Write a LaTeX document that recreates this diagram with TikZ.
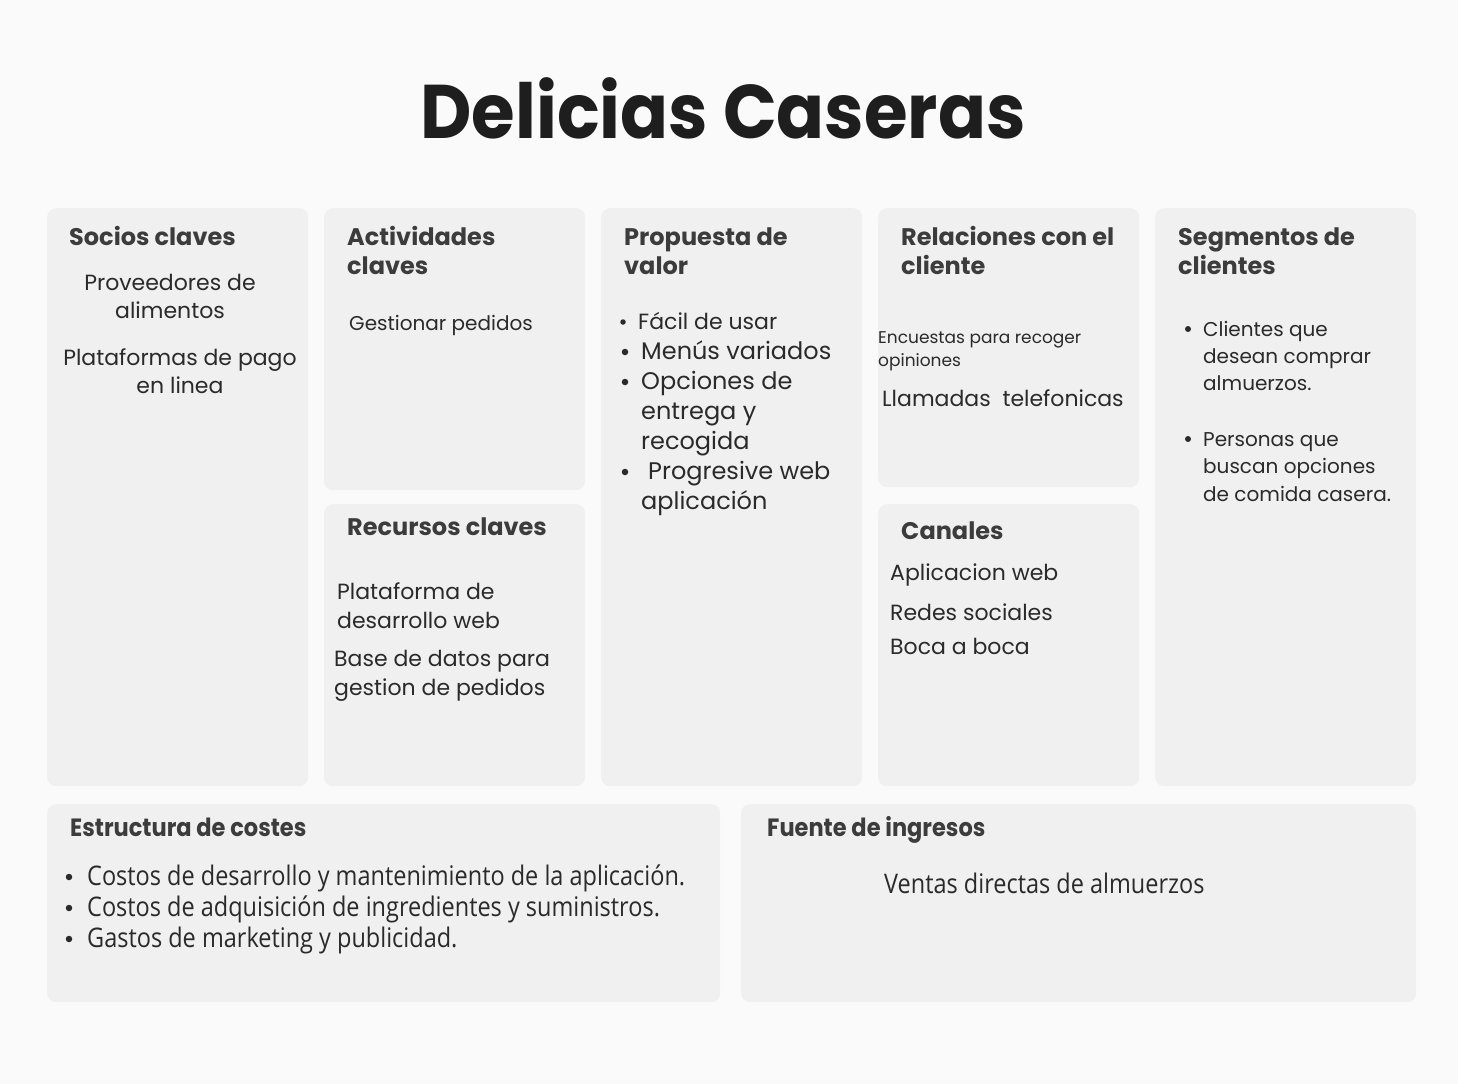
\documentclass[tikz,border=0pt]{standalone}
\usepackage{fontspec}
\setmainfont{Poppins}
\newfontfamily\pop{Poppins}
\newfontfamily\popt{Poppins}[FakeStretch=0.93]
\newfontfamily\popc{Poppins}[FakeStretch=0.9]
\newfontfamily\osans{Open Sans}[FakeStretch=0.87]
\definecolor{bgc}{HTML}{FAFAFA}
\definecolor{boxc}{HTML}{F0F0F0}
\definecolor{headc}{HTML}{3C3C3C}
\definecolor{bodyc}{HTML}{2A2A2A}
\definecolor{titlec}{HTML}{1E1E1E}
\begin{document}
\begin{tikzpicture}[x=1pt,y=-1pt,
  box/.style={fill=boxc, rounded corners=9pt, draw=none, anchor=north west, inner sep=0},
  head/.style={anchor=base west, inner sep=0, text=headc, font=\pop\bfseries\fontsize{24}{28}\selectfont},
  body/.style={anchor=base west, inner sep=0, text=bodyc, font=\pop\fontsize{22}{26}\selectfont},
  bodyc/.style={body, anchor=base},
  small/.style={body, font=\pop\fontsize{20}{24}\selectfont},
  tiny/.style={body, font=\pop\fontsize{17}{20}\selectfont},
  bul/.style={circle, fill=bodyc, draw=none, inner sep=0, minimum size=6.5pt},
  chead/.style={head, font=\popc\bfseries\fontsize{25}{30}\selectfont},
  cbody/.style={body, font=\osans\fontsize{27}{30}\selectfont},
]
\useasboundingbox (0,0) rectangle (1458,1084);
\fill[bgc] (0,0) rectangle (1458,1084);

\node[anchor=base, inner sep=0, text=titlec, font=\popt\bfseries\fontsize{76}{86}\selectfont] (title) at (723,138) {Delicias Caseras};

% boxes
\node[box, minimum width=261pt, minimum height=578pt] (socios) at (47,208) {};
\node[box, minimum width=261pt, minimum height=282pt] (activ) at (324,208) {};
\node[box, minimum width=261pt, minimum height=282pt] (recur) at (324,504) {};
\node[box, minimum width=261pt, minimum height=578pt] (prop) at (601,208) {};
\node[box, minimum width=261pt, minimum height=279pt] (relac) at (878,208) {};
\node[box, minimum width=261pt, minimum height=282pt] (canal) at (878,504) {};
\node[box, minimum width=261pt, minimum height=578pt] (segm) at (1155,208) {};
\node[box, minimum width=673pt, minimum height=198pt] (costes) at (47,804) {};
\node[box, minimum width=675pt, minimum height=198pt] (ingre) at (741,804) {};

% Socios claves
\node[head] (h1) at (69,245) {Socios claves};
\node[bodyc] (s1a) at (170,290) {Proveedores de};
\node[bodyc] (s1b) at (170,318) {alimentos};
\node[bodyc] (s2a) at (180,365) {Plataformas de pago};
\node[bodyc] (s2b) at (180,393) {en linea};

% Actividades
\node[head] (h2a) at (347,245) {Actividades};
\node[head] (h2b) at (347,274) {claves};
\node[small] (a1) at (349,330) {Gestionar pedidos};

% Recursos
\node[head] (h3) at (347,535) {Recursos claves};
\node[body] (r1a) at (337,599) {Plataforma de};
\node[body] (r1b) at (337,628) {desarrollo web};
\node[body] (r2a) at (334,666) {Base de datos para};
\node[body] (r2b) at (334,695) {gestion de pedidos};

% Propuesta
\node[head] (h4a) at (624,245) {Propuesta de};
\node[head] (h4b) at (624,274) {valor};
\node[bul, minimum size=5.5pt] (pb1) at (623,322) {};
\node[body] (p1) at (638,329) {Fácil de usar};
\node[bul] (pb2) at (625,352) {};
\node[body, font=\pop\fontsize{24}{28}\selectfont] (p2) at (641,359) {Menús variados};
\node[bul] (pb3) at (625,382) {};
\node[body, font=\pop\fontsize{24}{28}\selectfont] (p3a) at (641,389) {Opciones de};
\node[body, font=\pop\fontsize{24}{28}\selectfont] (p3b) at (641,419) {entrega y};
\node[body, font=\pop\fontsize{24}{28}\selectfont] (p3c) at (641,449) {recogida};
\node[bul] (pb4) at (625,472) {};
\node[body, font=\pop\fontsize{24}{28}\selectfont] (p4a) at (648,479) {Progresive web};
\node[body, font=\pop\fontsize{24}{28}\selectfont] (p4b) at (641,509) {aplicación};

% Relaciones
\node[head] (h5a) at (901,245) {Relaciones con el};
\node[head] (h5b) at (901,274) {cliente};
\node[tiny] (e1a) at (878,343) {Encuestas para recoger};
\node[tiny] (e1b) at (878,366) {opiniones};
\node[body] (e2) at (882,406) {Llamadas\ \ telefonicas};

% Canales
\node[head] (h6) at (901,539) {Canales};
\node[body] (c1) at (890,580) {Aplicacion web};
\node[body] (c2) at (890,620) {Redes sociales};
\node[body] (c3) at (890,654) {Boca a boca};

% Segmentos
\node[head] (h7a) at (1178,245) {Segmentos de};
\node[head] (h7b) at (1178,274) {clientes};
\node[bul, minimum size=6pt] (gb1) at (1188,329) {};
\node[small] (g1a) at (1203,336) {Clientes que};
\node[small] (g1b) at (1203,363) {desean comprar};
\node[small] (g1c) at (1203,390) {almuerzos.};
\node[bul, minimum size=6pt] (gb2) at (1188,439) {};
\node[small] (g2a) at (1203,446) {Personas que};
\node[small] (g2b) at (1203,473) {buscan opciones};
\node[small] (g2c) at (1203,501) {de comida casera.};

% Estructura de costes
\node[chead] (h8) at (70,836) {Estructura de costes};
\node[bul] (kb1) at (69,877) {};
\node[cbody] (k1) at (87,885) {Costos de desarrollo y mantenimiento de la aplicación.};
\node[bul] (kb2) at (69,908) {};
\node[cbody] (k2) at (87,916) {Costos de adquisición de ingredientes y suministros.};
\node[bul] (kb3) at (69,939) {};
\node[cbody] (k3) at (87,947) {Gastos de marketing y publicidad.};

% Fuente de ingresos
\node[chead] (h9) at (767,836) {Fuente de ingresos};
\node[cbody] (f1) at (884,893) {Ventas directas de almuerzos};
\end{tikzpicture}
\end{document}
